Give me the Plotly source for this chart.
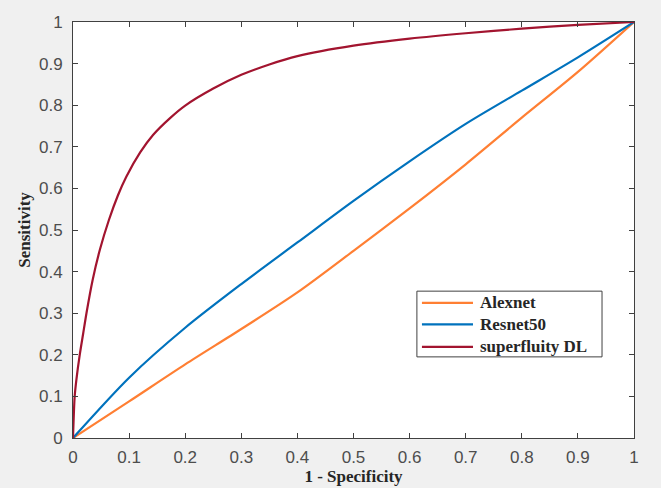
import plotly.graph_objects as go

# False positive rate (1 - Specificity) sample points
fpr_dl = [0, 0.003, 0.006, 0.012, 0.018, 0.024, 0.035, 0.048, 0.064, 0.08, 0.095, 0.12, 0.143,
          0.173, 0.2, 0.25, 0.3, 0.35, 0.4, 0.5, 0.6, 0.7, 0.8, 0.9, 1.0]
tpr_dl = [0, 0.1, 0.14, 0.2, 0.25, 0.3, 0.38, 0.453, 0.524, 0.583, 0.628, 0.687, 0.729,
          0.769, 0.799, 0.84, 0.873, 0.898, 0.918, 0.943, 0.96, 0.973, 0.984, 0.993, 1.0]

fpr_std = [0, 0.1, 0.2, 0.3, 0.4, 0.5, 0.6, 0.7, 0.8, 0.9, 1.0]
tpr_alexnet = [0, 0.088, 0.177, 0.262, 0.35, 0.45, 0.552, 0.658, 0.77, 0.88, 1.0]
tpr_resnet = [0, 0.145, 0.265, 0.37, 0.47, 0.57, 0.665, 0.755, 0.835, 0.915, 1.0]

series_names = ["Alexnet", "Resnet50", "superfluity DL"]
series_colors = ["#FF7F33", "#0072BD", "#A2142F"]

tick_vals = [0, 0.1, 0.2, 0.3, 0.4, 0.5, 0.6, 0.7, 0.8, 0.9, 1]
tick_text = ["0", "0.1", "0.2", "0.3", "0.4", "0.5", "0.6", "0.7", "0.8", "0.9", "1"]

fig = go.Figure()
for name, color, xs, ys, sm in [
    (series_names[0], series_colors[0], fpr_std, tpr_alexnet, 0.8),
    (series_names[1], series_colors[1], fpr_std, tpr_resnet, 0.8),
    (series_names[2], series_colors[2], fpr_dl, tpr_dl, 0.8),
]:
    fig.add_trace(go.Scatter(x=xs, y=ys, mode="lines", name=name, showlegend=False,
                             line=dict(color=color, width=2.2, shape="spline", smoothing=sm)))

axis_common = dict(
    range=[0, 1], tickmode="array", tickvals=tick_vals, ticktext=tick_text,
    ticks="inside", ticklen=5, tickcolor="#404040", tickwidth=1,
    showline=True, linecolor="#404040", linewidth=1, mirror="ticks",
    showgrid=False, zeroline=False, automargin=False,
    tickfont=dict(family="Liberation Sans, Arial", size=17, color="#4D4D4D"),
)

title_font = dict(family="Liberation Serif, Times New Roman", size=17,
                  color="#262626", weight="bold")

# Legend box drawn in plot-area (paper) coordinates
shapes = [dict(type="rect", xref="paper", yref="paper", x0=0.613, x1=0.943, y0=0.195, y1=0.353,
               fillcolor="#FFFFFF", line=dict(color="#404040", width=1), layer="above")]
annotations = []
row_y = [0.325, 0.273, 0.219]
for name, color, yy in zip(series_names, series_colors, row_y):
    shapes.append(dict(type="line", xref="paper", yref="paper", x0=0.622, x1=0.713, y0=yy, y1=yy,
                       line=dict(color=color, width=2.2), layer="above"))
    annotations.append(dict(xref="paper", yref="paper", x=0.722, y=yy, text=name,
                            showarrow=False, xanchor="left", yanchor="middle",
                            font=dict(family="Liberation Serif, Times New Roman", size=17,
                                      color="#262626", weight="bold")))

fig.update_layout(
    width=661, height=488,
    margin=dict(l=73, r=27, t=22, b=50),
    paper_bgcolor="#F0F0F0", plot_bgcolor="#FFFFFF",
    xaxis=dict(**axis_common, ticklabelstandoff=4,
               title=dict(text="1 - Specificity", standoff=2, font=title_font)),
    yaxis=dict(**axis_common, ticklabelstandoff=6,
               title=dict(text="Sensitivity", standoff=4, font=title_font)),
    shapes=shapes, annotations=annotations,
    showlegend=False,
)

fig.write_html("out.html", config={"displayModeBar": False},
               post_script="document.body.style.margin='0';"
                           "document.body.style.background='#F0F0F0';")
